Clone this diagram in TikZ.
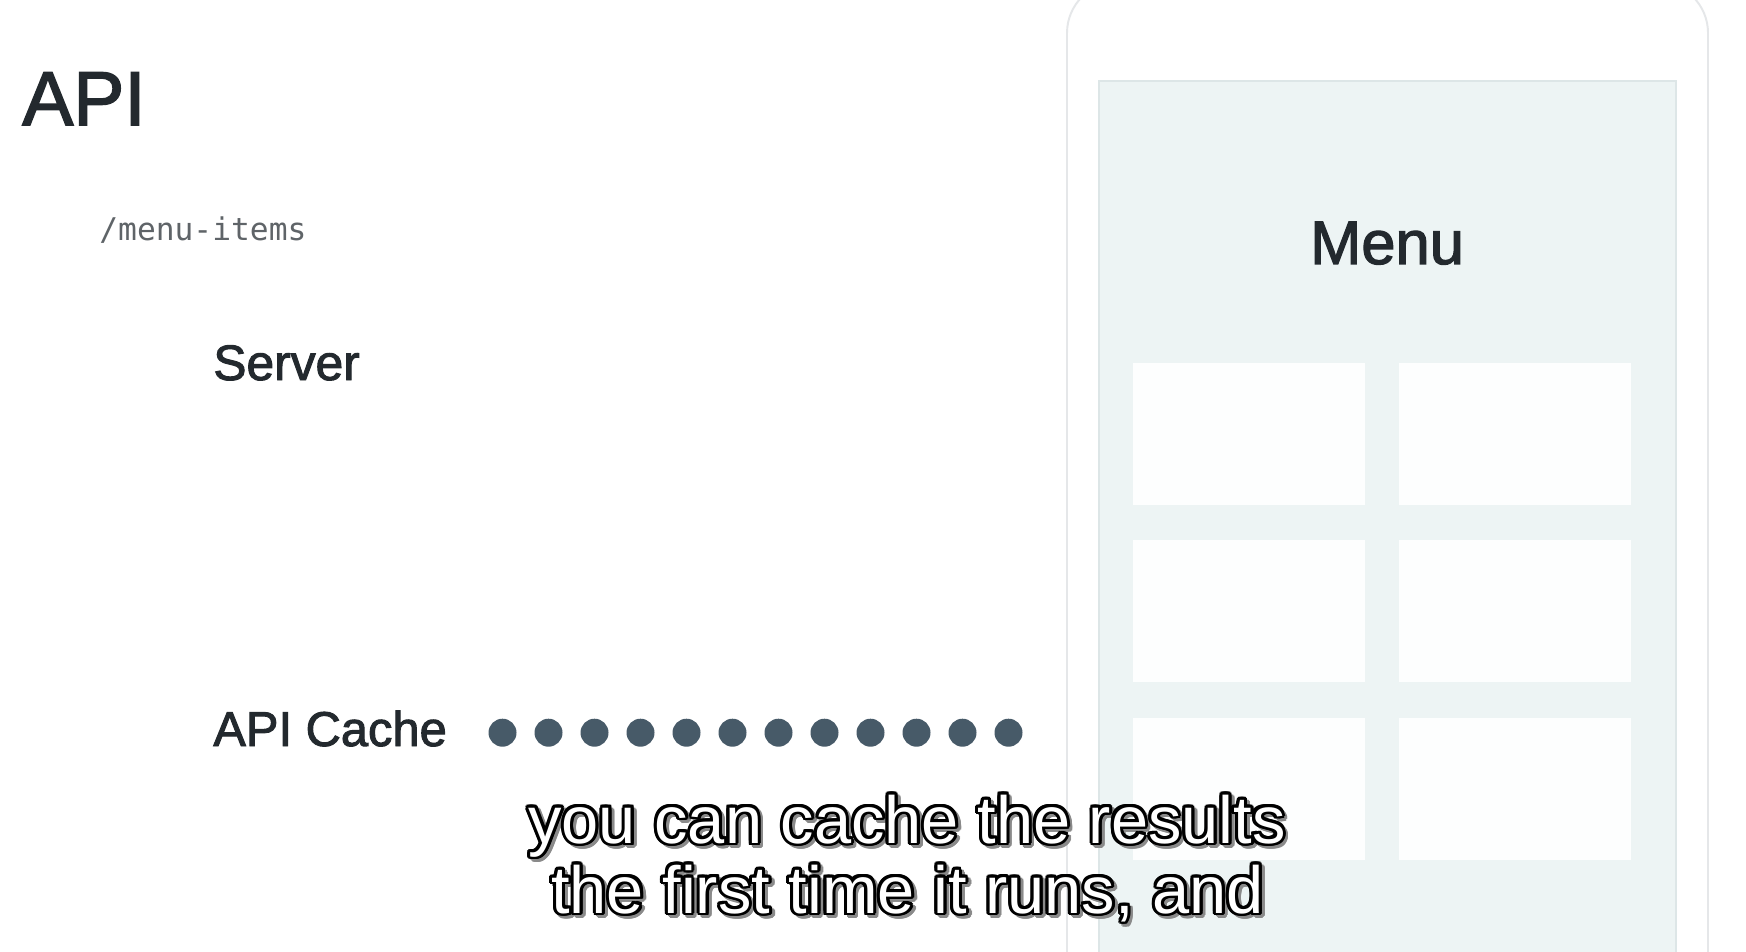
\documentclass[tikz,border=0pt]{standalone}
\usepackage{fontspec}
\setmainfont{Liberation Sans}
\newfontfamily\medfont{Liberation Sans}[FakeBold=2]
\newfontfamily\pathfont{DejaVu Sans Mono}
\usepackage{contour}
\contourlength{1.7pt}
\definecolor{ink}{HTML}{23292E}
\definecolor{pathgrey}{HTML}{5F6468}
\definecolor{dotslate}{HTML}{475A68}
\definecolor{screenfill}{HTML}{EDF4F4}
\definecolor{screenline}{HTML}{DDE6E7}
\definecolor{cellfill}{HTML}{FDFEFE}
\definecolor{phoneline}{HTML}{E5E7E9}
\definecolor{subshadow}{HTML}{8A8A8A}
\newcommand{\subline}[1]{\rlap{\hspace{1.6pt}\raisebox{-1.6pt}{\color{subshadow}\contour{subshadow}{#1}}}\contour{black}{#1}}
\begin{document}
\begin{tikzpicture}[x=0.02cm, y=0.02cm,
  apitext/.style={text=ink, inner sep=0pt, anchor=base west},
  subtitle/.style={text=white, inner sep=0pt, anchor=base, font=\fontsize{38}{40}\selectfont},
  cachedot/.style={fill=dotslate},
  cell/.style={fill=cellfill}]
\clip (0,0) rectangle (1746,-952);
\fill [white] (0,0) rectangle (1746,-952);
\draw [phoneline, line width=1.1pt, rounded corners=1.02cm] (1067,18) rectangle (1708,-1010);
\draw [screenline, fill=screenfill, line width=0.8pt] (1099,-81) rectangle (1676,-1000);
\foreach \x in {1133,1399}
  \foreach \y in {363,540,718}
    \fill [cell] (\x,-\y) rectangle ++(232,-142);
\node [apitext, font=\medfont\fontsize{43.5}{48}\selectfont] (api) at (22,-125) {API};
\node [inner sep=0pt, anchor=base west, text=pathgrey, font=\pathfont\fontsize{17.8}{20}\selectfont] (route) at (99,-241) {/menu-items};
\node [apitext, font=\medfont\fontsize{28.3}{32}\selectfont] (server) at (213,-380) {Server};
\node [apitext, font=\medfont\fontsize{27.8}{32}\selectfont] (cache) at (213,-746) {API Cache};
\foreach \i in {0,...,11}
  \fill [cachedot] (502.5+46*\i,-732.7) circle (14);
\node [text=ink, inner sep=0pt, anchor=base, font=\medfont\fontsize{35}{40}\selectfont] (menu) at (1387,-264) {Menu};
\node [subtitle] (sub1) at (907,-843) {\subline{you can cache the results}};
\node [subtitle] (sub2) at (907.5,-913) {\subline{the first time it runs, and}};
\end{tikzpicture}
\end{document}
